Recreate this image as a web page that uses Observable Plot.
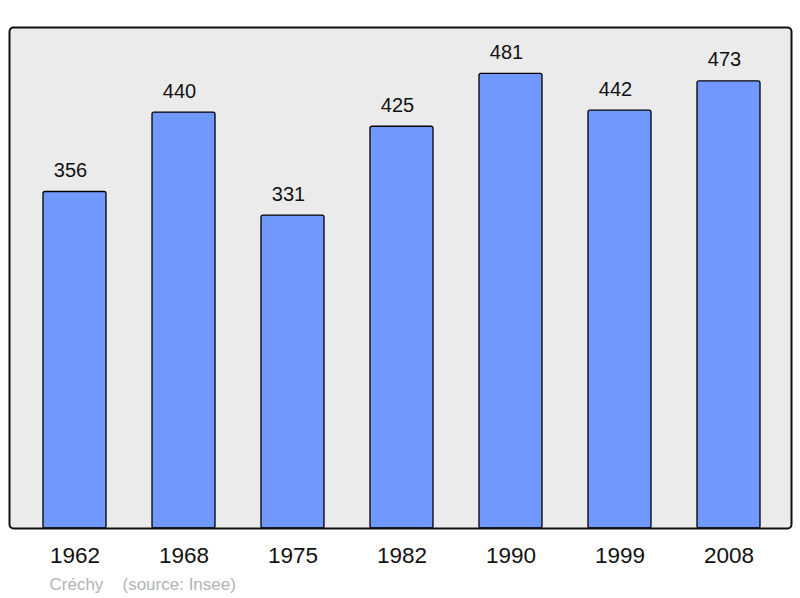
<!DOCTYPE html>
<html>
<head>
<meta charset="utf-8">
<script src="https://cdn.jsdelivr.net/npm/d3@7"></script>
<script src="https://cdn.jsdelivr.net/npm/@observablehq/plot@0.6"></script>
<style>
  html, body { margin: 0; padding: 0; background: #fff; }
  #chart svg { display: block; }
</style>
</head>
<body>
<div id="chart"></div>
<script>
const years = ["1962", "1968", "1975", "1982", "1990", "1999", "2008"];
const population = [356, 440, 331, 425, 481, 442, 473];
const place = "Créchy";
const source = "(source: Insee)";

const data = years.map((year, i) => ({year, value: population[i]}));
const font = "'Liberation Sans', Arial, sans-serif";

const chart = Plot.plot({
  width: 800,
  height: 598,
  marginLeft: 9,
  marginRight: 9,
  marginTop: 27,
  marginBottom: 70,
  style: {fontFamily: font, background: "#ffffff", overflow: "visible"},
  x: {domain: years, paddingInner: 0.425, paddingOuter: 0, insetLeft: 32, insetRight: 29},
  y: {domain: [0, 530]},
  marks: [
    Plot.frame({fill: "#ebebeb", stroke: "none"}),
    Plot.barY(data, {x: "year", y: "value", fill: "#7098ff", stroke: "#000", strokeWidth: 1.3, rx: 2}),
    Plot.frame({stroke: "#111", strokeWidth: 2, rx: 4}),
    Plot.text(data, {x: "year", y: "value", text: d => String(d.value), dx: -4.5, dy: -15, lineAnchor: "bottom", fontSize: 20, fill: "#111"}),
    Plot.axisX({tickSize: 0, tickPadding: 19, fontSize: 22.5, color: "#111", label: null}),
    Plot.axisY({ticks: [], label: null}),
    Plot.text([place], {frameAnchor: "bottom-left", dx: 40, dy: 61, text: d => d, fontSize: 17, fill: "#b3b3b3", lineAnchor: "bottom"}),
    Plot.text([source], {frameAnchor: "bottom-left", dx: 113, dy: 61, text: d => d, fontSize: 17, fill: "#b3b3b3", lineAnchor: "bottom"})
  ]
});
document.getElementById("chart").appendChild(chart);
</script>
</body>
</html>
